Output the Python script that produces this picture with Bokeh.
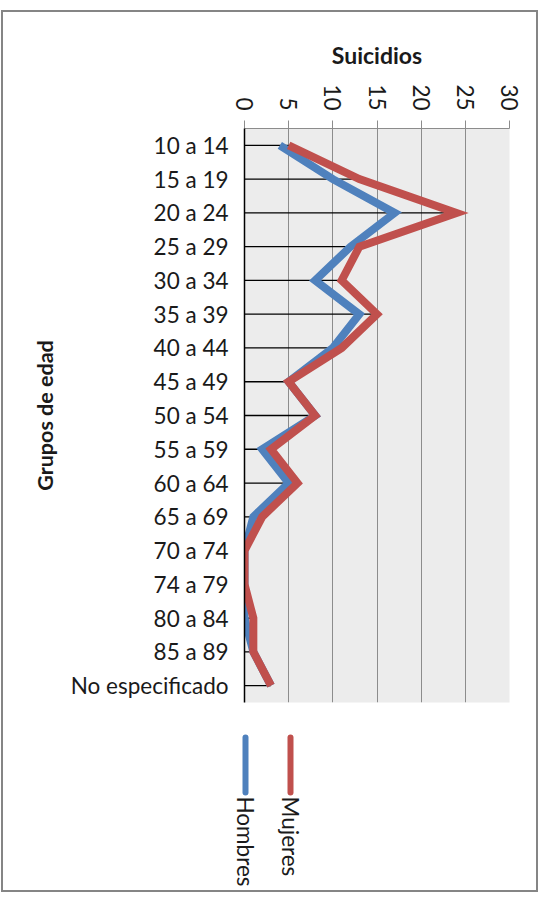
import math

from bokeh.core.properties import value
from bokeh.embed import file_html
from bokeh.layouts import column
from bokeh.models import ColumnDataSource, FactorRange, FixedTicker, Range1d
from bokeh.plotting import figure
from bokeh.resources import INLINE

# Suicidios por grupo de edad y sexo
grupos = ["10 a 14", "15 a 19", "20 a 24", "25 a 29", "30 a 34", "35 a 39",
          "40 a 44", "45 a 49", "50 a 54", "55 a 59", "60 a 64", "65 a 69",
          "70 a 74", "74 a 79", "80 a 84", "85 a 89", "No especificado"]
hombres = [4, 10, 17, 12, 8, 13, 10, 5, 8, 2, 5, 1, 0, 0, 0, 1, 3]
mujeres = [5, 13, 24, 13, 11, 15, 11, 5, 8, 3, 6, 2, 0, 0, 1, 1, 3]
valor_ticks = [0, 5, 10, 15, 20, 25, 30]

series = [("Mujeres", mujeres, "#C0504D"), ("Hombres", hombres, "#4F81BD")]

FONT = "Lato"
TXT = "#1a1a1a"
W = 533

src = ColumnDataSource(dict(
    grupo=grupos,
    hombres=hombres,
    mujeres=mujeres,
    maximo=[max(h, m) for h, m in zip(hombres, mujeres)],
    cero=[0] * len(grupos),
))

p = figure(
    width=W, height=708,
    x_range=Range1d(0, 30),
    y_range=FactorRange(*reversed(grupos)),
    x_axis_location="above",
    output_backend="svg", toolbar_location=None,
    min_border_left=241, min_border_right=27,
    min_border_top=116, min_border_bottom=18,
)
p.frame_align = False
p.background_fill_color = "#ececec"
p.border_fill_color = "white"
p.outline_line_color = None

# value grid
p.xgrid.ticker = FixedTicker(ticks=valor_ticks)
p.xgrid.grid_line_color = "#8c8c8c"
p.xgrid.grid_line_width = 1
p.ygrid.grid_line_color = None

# drop lines from the category axis to the largest value
p.segment(x0="cero", y0="grupo", x1="maximo", y1="grupo", source=src,
          line_color="black", line_width=1.3)

# series, women drawn on top
p.line(x="hombres", y="grupo", source=src, line_color="#4F81BD",
       line_width=8, line_join="miter")
p.line(x="mujeres", y="grupo", source=src, line_color="#C0504D",
       line_width=8, line_join="miter")

xa = p.xaxis[0]
xa.ticker = FixedTicker(ticks=valor_ticks)
xa.axis_label = "Suicidios"
xa.axis_label_text_font = FONT
xa.axis_label_text_font_style = "bold"
xa.axis_label_text_font_size = "23px"
xa.axis_label_text_color = TXT
xa.axis_label_standoff = 12
xa.major_label_orientation = -math.pi / 2
xa.major_label_text_font = FONT
xa.major_label_text_font_size = "22.5px"
xa.major_label_text_color = TXT
xa.major_label_standoff = 10
xa.major_tick_out = 8
xa.major_tick_in = 0
xa.major_tick_line_color = "#8c8c8c"
xa.minor_tick_out = 0
xa.minor_tick_in = 0
xa.axis_line_color = "#8c8c8c"

ya = p.yaxis[0]
ya.axis_label = "Grupos de edad"
ya.axis_label_text_font = FONT
ya.axis_label_text_font_style = "bold"
ya.axis_label_text_font_size = "21.5px"
ya.axis_label_text_color = TXT
ya.axis_label_standoff = 10
ya.major_label_text_font = FONT
ya.major_label_text_font_size = "22.5px"
ya.major_label_text_color = TXT
ya.major_label_standoff = 16
ya.major_tick_out = 0
ya.major_tick_in = 0
ya.axis_line_color = "black"
ya.axis_line_width = 1.5

# legend panel below the plot, rotated like the rest of the chart
LH = 170
leg = figure(
    width=W, height=LH,
    x_range=Range1d(0, W), y_range=Range1d(LH, 0),
    x_axis_type=None, y_axis_type=None,
    output_backend="svg", toolbar_location=None,
    min_border=0,
)
leg.frame_align = False
leg.outline_line_color = None
leg.background_fill_color = "white"
leg.border_fill_color = "white"
leg.xgrid.grid_line_color = None
leg.ygrid.grid_line_color = None

leg_x = [287, 242]
leg_src = ColumnDataSource(dict(
    x=leg_x,
    y0=[17, 17],
    y1=[72, 72],
    ty=[76, 76],
    nombre=[s[0] for s in series],
    color=[s[2] for s in series],
))
leg.segment(x0="x", y0="y0", x1="x", y1="y1", source=leg_src,
            line_color="color", line_width=6, line_cap="round")
leg.text(x="x", y="ty", text="nombre", source=leg_src, angle=-math.pi / 2,
         text_align="left", text_baseline="middle",
         text_font=value(FONT), text_font_size="22.5px", text_color=TXT)

layout = column(
    p, leg,
    styles={"border": "2px solid #858585", "margin-top": "10px",
            "margin-left": "1px", "background-color": "white"},
)

open("out.html", "w").write(file_html(layout, INLINE))
